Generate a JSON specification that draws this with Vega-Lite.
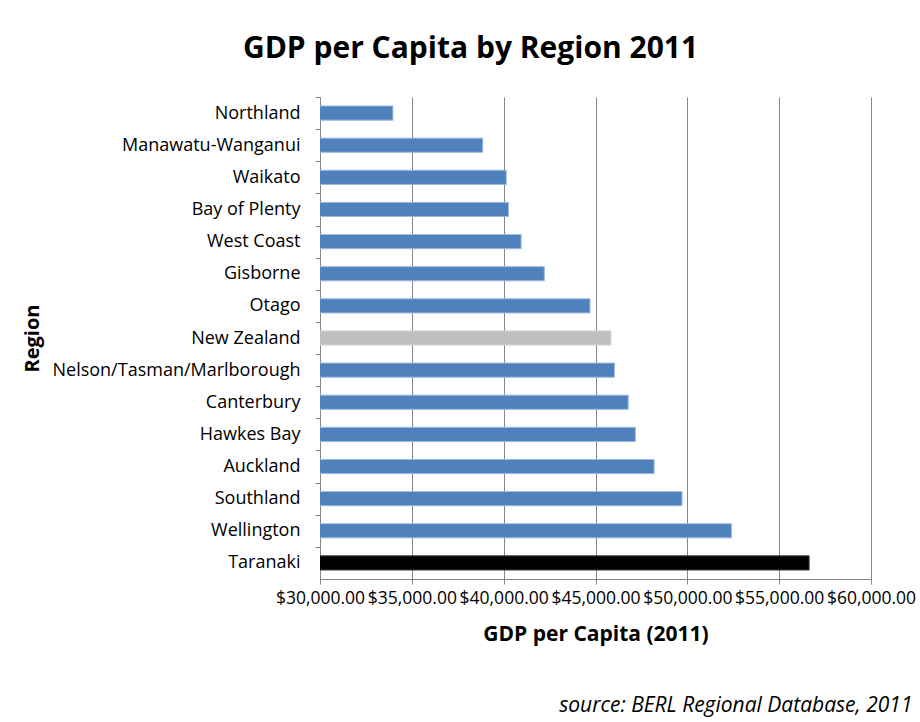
{
  "$schema": "https://vega.github.io/schema/vega-lite/v6.json",
  "autosize": {"type": "none"},
  "width": 551,
  "height": 482,
  "padding": {"left": 320, "top": 97, "right": 49, "bottom": 143},
  "background": "#ffffff",
  "title": {
    "text": "GDP per Capita by Region 2011",
    "font": "Open Sans",
    "fontSize": 30,
    "fontWeight": "bold",
    "color": "#000000",
    "anchor": "middle",
    "frame": "group",
    "dx": -125,
    "offset": 33
  },
  "data": {
    "values": [
      {"region": "Northland", "gdp": 33970, "type": "Region"},
      {"region": "Manawatu-Wanganui", "gdp": 38860, "type": "Region"},
      {"region": "Waikato", "gdp": 40140, "type": "Region"},
      {"region": "Bay of Plenty", "gdp": 40260, "type": "Region"},
      {"region": "West Coast", "gdp": 40950, "type": "Region"},
      {"region": "Gisborne", "gdp": 42210, "type": "Region"},
      {"region": "Otago", "gdp": 44700, "type": "Region"},
      {"region": "New Zealand", "gdp": 45840, "type": "National"},
      {"region": "Nelson/Tasman/Marlborough", "gdp": 46030, "type": "Region"},
      {"region": "Canterbury", "gdp": 46780, "type": "Region"},
      {"region": "Hawkes Bay", "gdp": 47170, "type": "Region"},
      {"region": "Auckland", "gdp": 48190, "type": "Region"},
      {"region": "Southland", "gdp": 49710, "type": "Region"},
      {"region": "Wellington", "gdp": 52400, "type": "Region"},
      {"region": "Taranaki", "gdp": 56630, "type": "Highest"}
    ]
  },
  "encoding": {
    "y": {
      "field": "region",
      "type": "nominal",
      "sort": null,
      "scale": {"paddingInner": 0.56, "paddingOuter": 0.28},
      "axis": {
        "title": "Region",
        "titleFont": "Open Sans",
        "titleFontSize": 20,
        "titleFontWeight": "bold",
        "titleColor": "#000000",
        "titleAngle": -90,
        "titleX": -288,
        "titleY": 241,
        "titleAlign": "center",
        "titleBaseline": "middle",
        "labelFont": "Open Sans",
        "labelFontSize": 18,
        "labelColor": "#000000",
        "labelPadding": 15,
        "labelLimit": 400,
        "tickSize": 5,
        "tickColor": "#868686",
        "tickOffset": -16.07,
        "labelOffset": 16.07,
        "domainColor": "#868686",
        "grid": false
      }
    }
  },
  "layer": [
    {
      "mark": {"type": "bar", "clip": true},
      "encoding": {
        "x": {
          "field": "gdp",
          "type": "quantitative",
          "scale": {"domain": [30000, 60000], "zero": false, "nice": false},
          "axis": {
            "orient": "bottom",
            "values": [30000, 35000, 40000, 45000, 50000, 55000, 60000],
            "format": "$,.2f",
            "grid": true,
            "gridColor": "#868686",
            "gridWidth": 1,
            "domainColor": "#868686",
            "tickColor": "#868686",
            "tickSize": 5,
            "labelFont": "Open Sans",
            "labelFontSize": 17.5,
            "labelColor": "#000000",
            "labelPadding": 5,
            "labelOverlap": false,
            "labelFlush": false,
            "labelBound": false,
            "title": "GDP per Capita (2011)",
            "titleFont": "Open Sans",
            "titleFontSize": 21,
            "titleFontWeight": "bold",
            "titleColor": "#000000",
            "titlePadding": 17
          }
        },
        "color": {
          "field": "type",
          "type": "nominal",
          "scale": {"domain": ["Region", "National", "Highest"], "range": ["#4F81BD", "#BFBFBF", "#000000"]},
          "legend": null
        }
      }
    },
    {
      "mark": {"type": "bar", "filled": false, "strokeWidth": 1, "clip": true},
      "encoding": {
        "x": {
          "field": "gdp",
          "type": "quantitative",
          "axis": {
            "orient": "bottom",
            "domain": false,
            "ticks": false,
            "labels": false,
            "grid": false,
            "title": "source:  BERL Regional Database, 2011",
            "titleFont": "Open Sans",
            "titleFontSize": 21,
            "titleFontWeight": "normal",
            "titleFontStyle": "italic",
            "titleColor": "#000000",
            "titleX": 592,
            "titleY": 126,
            "titleAlign": "right",
            "titleBaseline": "middle"
          }
        },
        "stroke": {
          "field": "type",
          "type": "nominal",
          "scale": {"domain": ["Region", "National", "Highest"], "range": ["#9bb8dd", "#d4d4d4", "#3a3a3a"]},
          "legend": null
        }
      }
    }
  ],
  "resolve": {"axis": {"x": "independent"}},
  "config": {
    "view": {"stroke": null}
  }
}
